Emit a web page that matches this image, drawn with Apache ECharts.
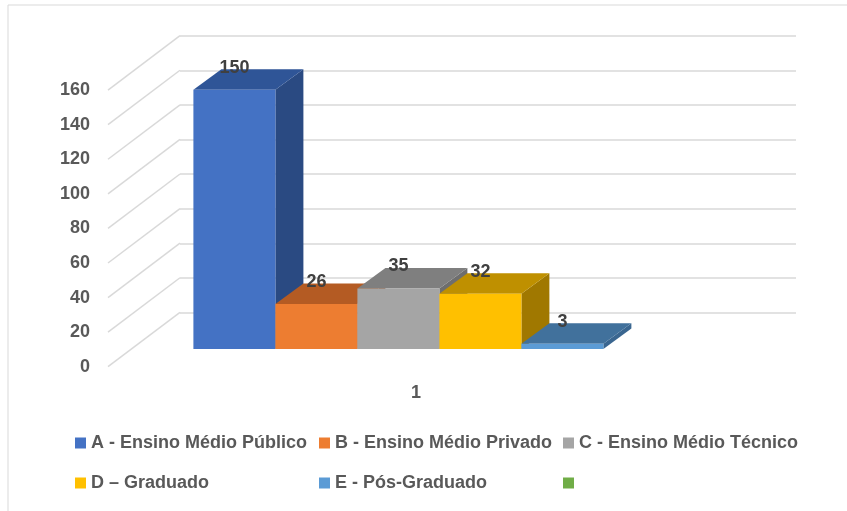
<!DOCTYPE html>
<html>
<head>
<meta charset="utf-8">
<script src="https://cdn.jsdelivr.net/npm/echarts@6/dist/echarts.min.js"></script>
<style>html,body{margin:0;padding:0;background:#fff}#c{width:847px;height:511px}</style>
</head>
<body>
<div id="c"></div>
<script>
// ---- data ----
const categories = ['1'];
const seriesNames = ['A - Ensino Médio Público', 'B - Ensino Médio Privado', 'C - Ensino Médio Técnico', 'D – Graduado', 'E - Pós-Graduado', ' '];
const seriesValues = [150, 26, 35, 32, 3, null];
const yTickValues = [0, 20, 40, 60, 80, 100, 120, 140, 160];

// ---- styles ----
const frontColors = ['#4472C4', '#ED7D31', '#A5A5A5', '#FFC000', '#5B9BD5', '#70AD47'];
const topColors   = ['#2F5597', '#B45B23', '#7F7F7F', '#BF9000', '#41719C', '#548235'];
const sideColors  = ['#2A4A82', '#A04F1E', '#6E6E6E', '#A07800', '#3A6690', '#4A7230'];
const FONT = '"Liberation Sans", Arial, sans-serif';
const WALL_DX = 72, WALL_DY = -54.4;     // floor depth (front plane -> back wall)
const FRONT_DX = 23.4, FRONT_DY = -17.7; // front plane -> bar front face
const BAR_DX = 28, BAR_DY = -20.5;       // bar depth
const BAR_FRAC = 82 / 616;
const N = seriesNames.length;

function barRender(i) {
  return function (params, api) {
    const v = api.value(1);
    if (v == null || isNaN(v)) return null;
    const top = api.coord([api.value(0), v]);
    const base = api.coord([api.value(0), 0]);
    const band = api.size([1, 0])[0];
    const bw = band * BAR_FRAC;
    const x0 = top[0] - bw * N / 2 + i * bw + FRONT_DX;
    const x1 = x0 + bw;
    const yt = top[1] + FRONT_DY;
    const yb = base[1] + FRONT_DY;
    return {
      type: 'group',
      children: [
        { type: 'polygon', shape: { points: [[x1, yt], [x1 + BAR_DX, yt + BAR_DY], [x1 + BAR_DX, yb + BAR_DY], [x1, yb]] }, style: { fill: sideColors[i] } },
        { type: 'polygon', shape: { points: [[x0, yt], [x1, yt], [x1 + BAR_DX, yt + BAR_DY], [x0 + BAR_DX, yt + BAR_DY]] }, style: { fill: topColors[i] } },
        { type: 'rect', shape: { x: x0, y: yt, width: bw, height: yb - yt }, style: { fill: frontColors[i] } },
        { type: 'text', z2: 10, style: { text: String(v), x: (x0 + x1) / 2, y: yt + BAR_DY - 1.5, fill: '#404040', font: 'bold 18px ' + FONT, align: 'center', verticalAlign: 'middle' } }
      ]
    };
  };
}

function diagRender(params, api) {
  const p = api.coord([api.value(0), api.value(1)]);
  const band = api.size([1, 0])[0];
  const xl = p[0] - band / 2;
  return {
    type: 'line',
    shape: { x1: xl, y1: p[1], x2: xl + WALL_DX, y2: p[1] + WALL_DY },
    style: { stroke: '#d9d9d9', lineWidth: 1.5 }
  };
}

const series = seriesNames.map((name, i) => ({
  type: 'custom',
  name: name,
  xAxisIndex: 0, yAxisIndex: 0,
  itemStyle: { color: frontColors[i] },
  renderItem: barRender(i),
  data: [[categories[0], seriesValues[i]]],
  z: 5 + i
}));
series.unshift({
  type: 'custom',
  name: '__diag',
  xAxisIndex: 0, yAxisIndex: 0,
  renderItem: diagRender,
  data: yTickValues.map(v => [categories[0], v]),
  z: 1,
  silent: true
});

const legendCommon = {
  icon: 'rect', itemWidth: 11, itemHeight: 11, itemGap: 6, itemTextGap: 6,
  padding: 0, left: 75, orient: 'horizontal',
  textStyle: { color: '#595959', fontSize: 18, fontWeight: 'bold', fontFamily: FONT, width: 222, overflow: 'none', lineHeight: 18 }
};

const option = {
  animation: false,
  backgroundColor: '#fff',
  color: frontColors,
  graphic: [{ type: 'rect', shape: { x: 8, y: 5, width: 900, height: 600 }, style: { fill: 'none', stroke: '#d9d9d9', lineWidth: 1 }, z: -10 }],
  legend: [
    Object.assign({}, legendCommon, { top: 434, data: seriesNames.slice(0, 3) }),
    Object.assign({}, legendCommon, { top: 474, data: seriesNames.slice(3) })
  ],
  grid: [
    { left: 108, right: 123, top: 90.1, height: 276.6, containLabel: false },
    { left: 180, right: 51, top: 35.7, height: 277, containLabel: false }
  ],
  xAxis: [
    { gridIndex: 0, type: 'category', data: categories, axisLine: { show: false }, axisTick: { show: false },
      axisLabel: { margin: 17, color: '#595959', fontSize: 18, fontWeight: 'bold', fontFamily: FONT } },
    { gridIndex: 1, type: 'category', data: categories, show: false }
  ],
  yAxis: [
    { gridIndex: 0, type: 'value', min: 0, max: 160, interval: 20, splitLine: { show: false }, axisLine: { show: false }, axisTick: { show: false },
      axisLabel: { margin: 18, color: '#595959', fontSize: 18, fontWeight: 'bold', fontFamily: FONT } },
    { gridIndex: 1, type: 'value', min: 0, max: 160, interval: 20, axisLine: { show: false }, axisTick: { show: false }, axisLabel: { show: false },
      splitLine: { show: true, lineStyle: { color: '#d9d9d9', width: 1.5 } } }
  ],
  series: series
};

echarts.init(document.getElementById('c')).setOption(option);
</script>
</body>
</html>
